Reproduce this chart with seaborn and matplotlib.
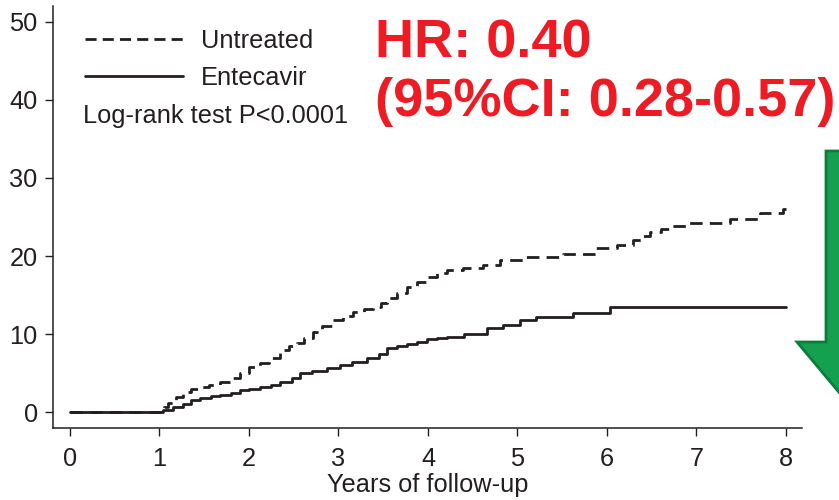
import matplotlib
matplotlib.use("Agg")
import matplotlib.pyplot as plt
import seaborn as sns
import pandas as pd
from matplotlib.lines import Line2D
from matplotlib.patches import Polygon

# ---- data ----
untreated_t = [0, 1.05, 1.10, 1.18, 1.26, 1.35, 1.45, 1.55, 1.68, 1.80, 1.90, 2.00,
               2.12, 2.22, 2.35, 2.45, 2.54, 2.62, 2.72, 2.82, 2.94, 3.05, 3.16, 3.28,
               3.39, 3.47, 3.54, 3.65, 3.77, 3.88, 3.99, 4.10, 4.21, 4.39, 4.61, 4.80,
               5.06, 5.51, 5.88, 6.11, 6.29, 6.40, 6.48, 6.60, 6.70, 6.89, 7.37, 7.71,
               7.97, 8.0]
untreated_v = [0, 0.6, 1.2, 1.9, 2.6, 3.0, 3.2, 3.5, 3.8, 4.4, 5.0, 5.8,
               6.3, 6.9, 7.9, 8.4, 8.8, 9.5, 10.3, 11.0, 11.8, 12.3, 12.8, 13.2,
               13.5, 14.0, 14.6, 15.3, 16.0, 16.7, 17.3, 17.8, 18.2, 18.5, 18.9, 19.5,
               19.9, 20.2, 21.0, 21.4, 22.1, 22.6, 23.1, 23.5, 23.8, 24.2, 24.7, 25.5,
               26.0, 26.0]

entecavir_t = [0, 1.04, 1.15, 1.26, 1.35, 1.45, 1.58, 1.68, 1.80, 1.90, 2.00, 2.12,
               2.25, 2.35, 2.48, 2.57, 2.70, 2.87, 3.02, 3.15, 3.32, 3.45, 3.54, 3.65,
               3.77, 3.88, 3.99, 4.10, 4.21, 4.40, 4.66, 4.84, 5.03, 5.21, 5.62, 6.03, 8.0]
entecavir_v = [0, 0.3, 0.6, 1.0, 1.5, 1.8, 2.0, 2.2, 2.5, 2.8, 3.0, 3.2,
               3.5, 3.8, 4.4, 5.0, 5.3, 5.6, 6.0, 6.4, 6.9, 7.5, 8.2, 8.4,
               8.7, 9.0, 9.3, 9.5, 9.6, 10.0, 10.8, 11.2, 11.8, 12.2, 12.7, 13.5, 13.5]

series_labels = ["Untreated", "Entecavir"]
x_ticks = [0, 1, 2, 3, 4, 5, 6, 7, 8]
y_ticks = [0, 10, 20, 30, 40, 50]
x_label = "Years of follow-up"
test_text = "Log-rank test P<0.0001"
hr_line1 = "HR: 0.40"
hr_line2 = "(95%CI: 0.28-0.57)"

# ---- style ----
sns.set_style("ticks")
plt.rcParams['font.family'] = ['Liberation Sans', 'DejaVu Sans']
INK = "#231F20"
plt.rcParams.update({
    "axes.edgecolor": INK, "xtick.color": INK, "ytick.color": INK,
    "text.color": INK, "axes.labelcolor": INK,
})
FS = 18.3

W, H = 839, 500
fig = plt.figure(figsize=(W / 100, H / 100), dpi=100)
ax = fig.add_axes([53 / W, 1 - 428 / H, (802 - 53) / W, (428 - 6) / H])

df_u = pd.DataFrame({"t": untreated_t, "v": untreated_v})
df_e = pd.DataFrame({"t": entecavir_t, "v": entecavir_v})

LW = 2.0
DASH = (0, (4.5, 2.6))
sns.lineplot(data=df_u, x="t", y="v", ax=ax, color=INK, lw=LW, linestyle=DASH,
             drawstyle="steps-post", estimator=None, sort=False)
sns.lineplot(data=df_e, x="t", y="v", ax=ax, color=INK, lw=LW,
             drawstyle="steps-post", estimator=None, sort=False)

ax.set_xlim(-0.19, 8.18)
ax.set_ylim(-2.05, 52.05)
ax.set_xticks(x_ticks)
ax.set_yticks(y_ticks)
ax.tick_params(axis="both", labelsize=FS, length=6, width=1.0, direction="out")
ax.tick_params(axis="x", pad=8)
ax.tick_params(axis="y", pad=5)
ax.set_xlabel(x_label, fontsize=FS, labelpad=1)
ax.set_ylabel("")
for s in ["top", "right"]:
    ax.spines[s].set_visible(False)
for s in ["left", "bottom"]:
    ax.spines[s].set_linewidth(1.1)

handles = [Line2D([], [], color=INK, lw=LW, linestyle=(0, (4.0, 2.2))),
           Line2D([], [], color=INK, lw=LW)]
leg = ax.legend(handles, series_labels, loc="upper left",
                bbox_to_anchor=(85 / W, 1 - 29 / H), bbox_transform=fig.transFigure,
                frameon=False, fontsize=FS, handlelength=3.85, handletextpad=0.7,
                labelspacing=0.52, borderpad=0, borderaxespad=0)

fig.text(83 / W, 1 - 123 / H, test_text, fontsize=FS, va="baseline", ha="left")

RED = "#ED1C24"
fig.text(375 / W, 1 - 57 / H, hr_line1, fontsize=39, fontweight="bold",
         color=RED, va="baseline", ha="left")
fig.text(375 / W, 1 - 116 / H, hr_line2, fontsize=39, fontweight="bold",
         color=RED, va="baseline", ha="left")

# green down arrow (partially cut by the right edge)
arrow_px = [(826, 151), (890, 151), (890, 342), (919, 342), (858, 415),
            (797, 342), (826, 342)]
arrow = Polygon([(x / W, 1 - y / H) for x, y in arrow_px], closed=True,
                transform=fig.transFigure, facecolor="#14A04F",
                edgecolor="#0B7D3B", linewidth=2.0, joinstyle="miter", clip_on=False)
fig.patches.append(arrow)

fig.savefig("out.png", dpi=100)
